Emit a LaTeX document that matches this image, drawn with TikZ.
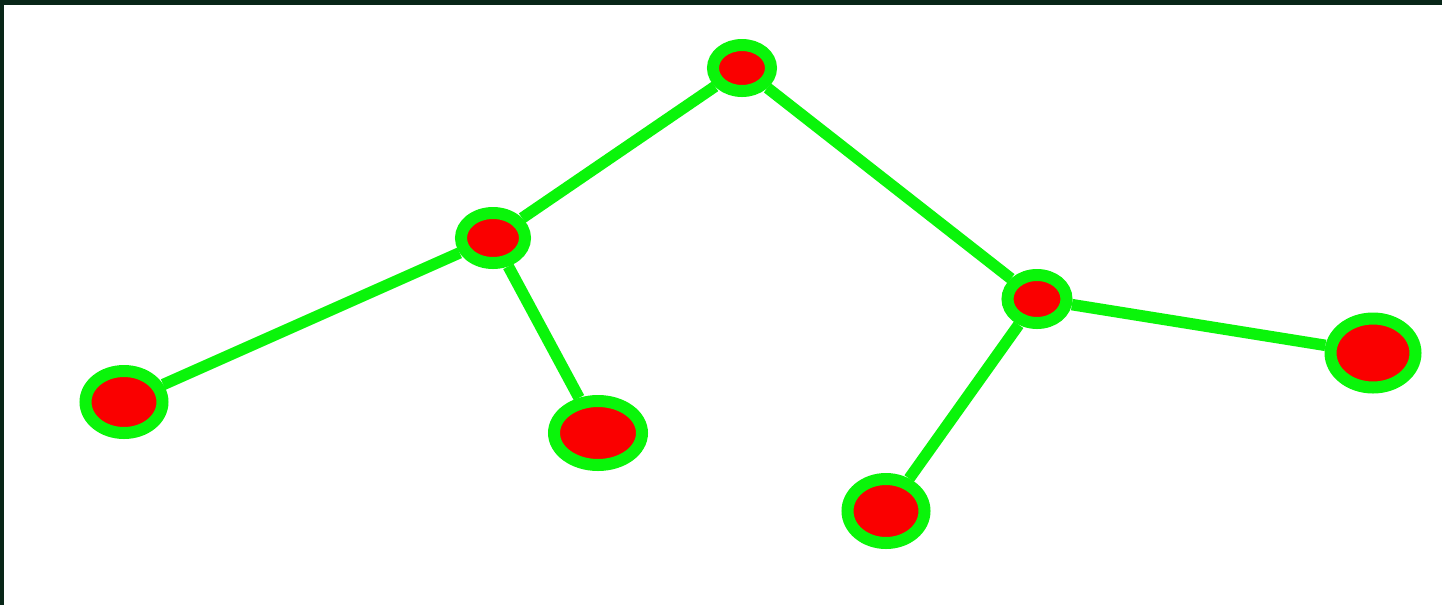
\documentclass[tikz,border=0pt]{standalone}
\usetikzlibrary{shapes.geometric}
\definecolor{vert}{RGB}{10,245,10}
\definecolor{rouge}{RGB}{250,0,0}
\definecolor{cadre}{RGB}{8,38,24}
\begin{document}
\begin{tikzpicture}[x=0.2mm,y=-0.2mm,
    noeud/.style={ellipse,draw=vert,fill=rouge,line width=2.4mm,inner sep=0pt},
    arete/.style={vert,line width=2.3mm}]
        \useasboundingbox (0,0) rectangle (1442,605);
        % Cadre sombre en haut et a gauche
        \fill[cadre] (0,0) rectangle (1442,5);
        \fill[cadre] (0,0) rectangle (4,605);

        % Les sommets de l'arbre
        \node[noeud,minimum width=11.6mm,minimum height=9.2mm] (racine) at (742,68) {};
        \node[noeud,minimum width=12.8mm,minimum height=10mm] (g) at (493,238) {};
        \node[noeud,minimum width=11.8mm,minimum height=9.6mm] (d) at (1037,299) {};
        \node[noeud,minimum width=15.4mm,minimum height=12.4mm] (gg) at (124,402) {};
        \node[noeud,minimum width=17.6mm,minimum height=12.8mm] (gd) at (598,433) {};
        \node[noeud,minimum width=15.4mm,minimum height=12.8mm] (dg) at (886,511) {};
        \node[noeud,minimum width=17mm,minimum height=13.8mm] (dd) at (1373,353) {};

        % Les aretes
        \draw[arete] (racine) -- (g);
        \draw[arete] (racine) -- (d);
        \draw[arete] (g) -- (gg);
        \draw[arete] (g) -- (gd);
        \draw[arete] (d) -- (dg);
        \draw[arete] (d) -- (dd);

    \end{tikzpicture}
\end{document}
